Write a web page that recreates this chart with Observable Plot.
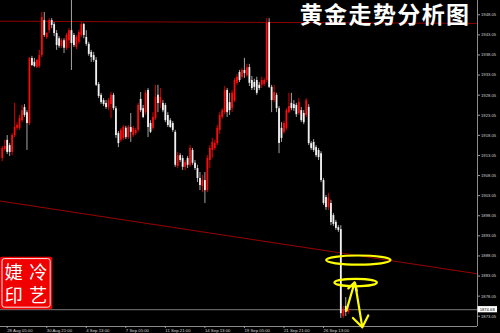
<!DOCTYPE html>
<html>
<head>
<meta charset="utf-8">
<script src="https://cdn.jsdelivr.net/npm/d3@7"></script>
<script src="https://cdn.jsdelivr.net/npm/@observablehq/plot@0.6"></script>
<style>
  html, body { margin: 0; padding: 0; background: #000; }
  #chart svg { display: block; }
</style>
</head>
<body>
<div id="chart"></div>
<script>
// XAUUSD, H4 bars, 25 Aug 21:00 .. 28 Sep 01:00
const firstBar = -2;

const open = [
  1912.3, 1914.5, 1916.8, 1915.5, 1913.8, 1918.0, 1919.8, 1919.8, 1921.7, 1925.0,
  1923.7, 1921.0, 1937.2, 1936.2, 1934.9, 1935.2, 1937.9, 1946.6, 1942.4, 1944.1,
  1946.6, 1945.6, 1943.4, 1942.1, 1940.2, 1941.6, 1939.7, 1941.6, 1944.1, 1942.9,
  1939.9, 1941.2, 1942.9, 1945.6, 1942.4, 1940.7, 1938.7, 1937.9, 1936.7, 1930.7,
  1928.0, 1926.7, 1926.0, 1925.0, 1925.7, 1928.0, 1924.7, 1918.5, 1916.8, 1917.3,
  1919.8, 1917.5, 1920.0, 1918.0, 1918.5, 1919.3, 1927.0, 1924.7, 1923.7, 1929.2,
  1921.0, 1919.8, 1922.2, 1928.0, 1926.0, 1926.0, 1925.5, 1923.0, 1921.7, 1921.0,
  1918.8, 1910.3, 1913.0, 1912.3, 1910.1, 1912.3, 1910.6, 1914.3, 1911.1, 1909.8,
  1907.3, 1905.3, 1906.8, 1904.3, 1911.8, 1914.3, 1914.8, 1916.0, 1919.3, 1922.5,
  1923.7, 1929.2, 1926.2, 1924.7, 1926.7, 1931.0, 1933.7, 1932.5, 1934.2, 1932.9,
  1934.9, 1931.7, 1931.2, 1931.7, 1930.5, 1930.5, 1930.7, 1931.7, 1946.1, 1930.0,
  1926.7, 1928.0, 1924.7, 1919.8, 1918.8, 1919.8, 1923.7, 1926.0, 1925.7, 1925.5,
  1923.5, 1924.2, 1923.5, 1923.0, 1925.0, 1916.0, 1916.3, 1915.0, 1914.3, 1913.5,
  1906.8, 1902.6, 1900.1, 1901.1, 1898.1, 1896.4, 1895.1, 1894.6, 1873.0, 1875.5,
  1874.0
];
const high = [
  1915.3, 1916.8, 1918.0, 1916.0, 1918.5, 1926.0, 1921.2, 1923.0, 1925.5, 1925.7,
  1924.2, 1937.4, 1937.7, 1937.2, 1936.9, 1939.2, 1948.6, 1948.6, 1943.6, 1947.1,
  1947.1, 1946.1, 1944.1, 1942.6, 1942.1, 1942.1, 1943.4, 1944.6, 1953.0, 1943.4,
  1942.9, 1944.1, 1946.1, 1945.9, 1944.1, 1941.2, 1939.2, 1938.7, 1937.4, 1931.2,
  1928.5, 1927.2, 1926.7, 1927.2, 1928.7, 1928.5, 1925.2, 1919.0, 1919.8, 1920.5,
  1920.3, 1920.5, 1923.5, 1920.3, 1919.8, 1926.0, 1928.7, 1925.5, 1929.2, 1929.7,
  1921.7, 1923.7, 1930.5, 1930.5, 1929.7, 1926.7, 1926.0, 1923.7, 1922.2, 1921.5,
  1919.3, 1913.8, 1913.5, 1913.0, 1911.8, 1912.8, 1915.5, 1914.8, 1911.8, 1910.6,
  1908.8, 1908.1, 1908.8, 1913.0, 1915.5, 1917.3, 1916.8, 1920.5, 1923.7, 1924.7,
  1930.2, 1929.7, 1928.5, 1929.2, 1932.2, 1933.2, 1934.2, 1934.7, 1937.2, 1935.7,
  1935.7, 1932.7, 1932.0, 1932.5, 1931.2, 1932.5, 1932.2, 1947.1, 1947.1, 1930.5,
  1930.5, 1928.5, 1925.2, 1921.2, 1921.5, 1924.7, 1928.5, 1928.5, 1926.7, 1926.0,
  1927.2, 1925.0, 1924.2, 1927.2, 1925.7, 1916.5, 1917.0, 1915.5, 1914.8, 1914.0,
  1907.3, 1903.1, 1903.6, 1901.9, 1898.6, 1896.9, 1895.6, 1895.6, 1875.5, 1877.7,
  1875.5
];
const low = [
  1911.5, 1914.0, 1913.3, 1912.8, 1913.0, 1917.5, 1919.3, 1919.3, 1921.2, 1922.5,
  1914.3, 1920.5, 1935.2, 1934.9, 1934.7, 1934.7, 1937.4, 1942.4, 1941.9, 1943.4,
  1944.6, 1942.6, 1939.2, 1939.7, 1939.7, 1938.4, 1939.2, 1939.7, 1934.2, 1939.9,
  1939.4, 1940.7, 1942.4, 1942.1, 1940.2, 1937.7, 1936.2, 1936.2, 1930.2, 1927.2,
  1925.7, 1925.2, 1924.5, 1924.2, 1922.2, 1924.2, 1917.3, 1915.0, 1916.3, 1916.8,
  1917.0, 1917.0, 1916.3, 1917.5, 1918.0, 1918.8, 1923.7, 1922.2, 1923.0, 1917.5,
  1918.5, 1919.3, 1921.7, 1923.7, 1924.7, 1923.7, 1921.2, 1920.0, 1919.8, 1918.8,
  1910.1, 1909.8, 1911.3, 1909.3, 1909.3, 1909.8, 1910.1, 1910.6, 1909.3, 1906.3,
  1904.3, 1903.8, 1901.1, 1903.8, 1909.8, 1912.3, 1914.3, 1915.5, 1918.3, 1922.0,
  1923.2, 1922.5, 1923.0, 1923.7, 1926.2, 1930.5, 1931.2, 1932.0, 1932.2, 1932.5,
  1930.2, 1929.2, 1929.2, 1928.0, 1929.2, 1929.7, 1930.2, 1931.2, 1929.7, 1923.7,
  1926.2, 1923.7, 1913.5, 1916.3, 1918.3, 1919.3, 1923.5, 1924.2, 1924.0, 1922.5,
  1923.0, 1921.2, 1920.7, 1922.5, 1915.5, 1914.3, 1913.8, 1912.5, 1911.8, 1906.3,
  1900.6, 1899.4, 1899.4, 1895.6, 1895.4, 1894.4, 1893.9, 1872.5, 1872.5, 1873.0,
  1873.5
];
const close = [
  1914.8, 1915.3, 1913.8, 1913.8, 1918.0, 1920.0, 1920.5, 1922.2, 1924.2, 1923.0,
  1921.0, 1937.2, 1935.4, 1935.2, 1936.7, 1937.9, 1947.4, 1942.9, 1943.4, 1946.6,
  1945.4, 1943.4, 1940.4, 1940.2, 1941.6, 1939.7, 1942.9, 1944.1, 1940.9, 1940.4,
  1942.4, 1943.6, 1945.6, 1942.9, 1940.7, 1938.2, 1937.4, 1936.7, 1930.5, 1927.7,
  1926.2, 1925.7, 1925.0, 1926.7, 1928.0, 1924.7, 1918.0, 1916.0, 1919.3, 1920.0,
  1917.5, 1920.0, 1918.8, 1919.8, 1919.3, 1925.5, 1924.2, 1922.5, 1928.5, 1920.0,
  1918.8, 1922.5, 1927.5, 1926.0, 1927.5, 1924.2, 1921.7, 1920.5, 1920.0, 1919.3,
  1910.6, 1913.0, 1911.8, 1910.1, 1911.3, 1910.6, 1914.8, 1911.1, 1909.8, 1907.3,
  1905.6, 1906.8, 1904.3, 1912.3, 1914.8, 1916.3, 1916.0, 1919.8, 1923.0, 1924.2,
  1929.2, 1923.7, 1924.2, 1928.5, 1931.7, 1932.5, 1931.7, 1934.2, 1933.4, 1934.9,
  1931.0, 1929.7, 1930.0, 1928.5, 1929.7, 1931.7, 1931.7, 1945.9, 1930.0, 1926.7,
  1928.7, 1924.7, 1916.0, 1917.3, 1921.0, 1924.2, 1925.2, 1924.7, 1924.7, 1923.2,
  1926.2, 1921.7, 1921.2, 1926.7, 1916.0, 1914.8, 1914.3, 1913.0, 1912.5, 1906.8,
  1901.1, 1900.1, 1902.4, 1896.4, 1895.9, 1894.9, 1894.4, 1873.7, 1874.7, 1874.0,
  1874.68
];

// Time axis: one label every 16 bars
const timeTicks = [0, 16, 32, 48, 64, 80, 96, 112, 128];
const timeLabels = ["28 Aug 05:00", "30 Aug 21:00", "4 Sep 13:00", "7 Sep 05:00",
  "11 Sep 21:00", "14 Sep 13:00", "19 Sep 05:00", "21 Sep 21:00", "26 Sep 13:00"];

// Price axis grid
const priceTicks = [1873.05, 1878.05, 1883.05, 1888.05, 1893.05, 1898.05, 1903.05, 1908.05,
  1913.05, 1918.05, 1923.05, 1928.05, 1933.05, 1938.05, 1943.05, 1948.05];
const lastPrice = 1874.68;

// Drawn lines: horizontal resistance and falling support
const resistance = [{bar: -2.71, price: 1946.45}, {bar: 190.31, price: 1945.9}];
const support = [{bar: -2.71, price: 1901.7}, {bar: 190.31, price: 1883.6}];

// Yellow markups
const rings = [
  {bar: 142.3, price: 1886.9, rx: 32.2, ry: 4.6},
  {bar: 141.2, price: 1881.3, rx: 21.2, ry: 3.7}
];
const bounceArrow = [{x1: 137.3, y1: 1874.5, x2: 140.6, y2: 1881.5}];
const dropArrow = [{x1: 140.8, y1: 1881.2, x2: 143.7, y2: 1870.3}];

const title = "黄金走势分析图";
const seal = [["婕", "冷"], ["印", "艺"]];

const bars = open.map((o, k) => ({
  bar: firstBar + k, open: o, high: high[k], low: low[k], close: close[k],
  up: close[k] > o
}));
const labelOf = new Map(timeTicks.map((t, k) => [t, timeLabels[k]]));

const chart = Plot.plot({
  width: 500,
  height: 333,
  marginLeft: 0,
  marginRight: 23,
  marginTop: 0,
  marginBottom: 7,
  style: {background: "#000", color: "#d0d0d0", fontFamily: "'Liberation Sans', sans-serif", overflow: "visible"},
  x: {domain: [-2.71, 190.31]},
  y: {domain: [1870.5, 1951.6]},
  marks: [
    Plot.ruleY([lastPrice], {stroke: "#7a7a7a", strokeWidth: 1}),
    Plot.line(resistance, {x: "bar", y: "price", stroke: "#8e0000", strokeWidth: 1}),
    Plot.line(support, {x: "bar", y: "price", stroke: "#9a0000", strokeWidth: 1}),
    Plot.ruleX(bars, {x: "bar", y1: "low", y2: "high",
      stroke: d => d.up ? "#d40000" : "#a5a5a5", strokeWidth: 1}),
    Plot.ruleX(bars, {x: "bar", y1: "open", y2: "close",
      stroke: d => d.up ? "#ff0a0a" : "#f2f2f2", strokeWidth: 1.8}),
    Plot.ruleX([190.31], {stroke: "#8c8c8c", strokeWidth: 1}),
    Plot.ruleY([1870.5], {stroke: "#8c8c8c", strokeWidth: 1}),
    Plot.axisY(priceTicks, {anchor: "right", tickSize: 2, tickPadding: 1.5,
      tickFormat: d => d.toFixed(2), fontSize: 4.2, stroke: "#9a9a9a", fill: "#d0d0d0"}),
    Plot.axisX(timeTicks, {anchor: "bottom", tickSize: 2, tickPadding: 0.3,
      tickFormat: d => labelOf.get(d), textAnchor: "start", fontSize: 4.3,
      stroke: "#9a9a9a", fill: "#d0d0d0"}),
    Plot.arrow(bounceArrow, {x1: "x1", y1: "y1", x2: "x2", y2: "y2",
      stroke: "#ffff00", strokeWidth: 2.2, headLength: 6, headAngle: 60}),
    Plot.arrow(dropArrow, {x1: "x1", y1: "y1", x2: "x2", y2: "y2",
      stroke: "#ffff00", strokeWidth: 2.2, headLength: 9, headAngle: 72}),
    Plot.text([title], {frameAnchor: "top-right", textAnchor: "end", lineAnchor: "middle",
      dx: -7, dy: 15, fontSize: 23, fontWeight: "bold", fill: "#ffffff",
      fontFamily: "'Noto Sans CJK SC', sans-serif"})
  ]
});

const svg = d3.select(chart);
const sx = chart.scale("x"), sy = chart.scale("y");

// title tracking
svg.selectAll("text").filter(function () { return this.textContent === title; })
  .style("letter-spacing", "1.4px");

// rings around the break levels
svg.append("g").selectAll("ellipse").data(rings).join("ellipse")
  .attr("cx", d => sx.apply(d.bar)).attr("cy", d => sy.apply(d.price))
  .attr("rx", d => d.rx).attr("ry", d => d.ry)
  .attr("fill", "none").attr("stroke", "#ffff00").attr("stroke-width", 2.2);

// last price tag on the price axis
const yLast = sy.apply(lastPrice);
const tag = svg.append("g");
tag.append("rect").attr("x", 477.5).attr("y", yLast - 3.1).attr("width", 19.5).attr("height", 6.2)
  .attr("fill", "#ffffff");
tag.append("text").attr("x", 487.2).attr("y", yLast).attr("dy", "0.35em")
  .attr("text-anchor", "middle").attr("font-size", 4.2).attr("fill", "#000")
  .attr("font-family", "'Liberation Sans', sans-serif").text(lastPrice.toFixed(2));

// seal
const stamp = svg.append("g");
stamp.append("rect").attr("x", 0).attr("y", 256.8).attr("width", 52.3).attr("height", 52.4)
  .attr("rx", 2).attr("fill", "#f00000");
stamp.append("rect").attr("x", 2).attr("y", 258.6).attr("width", 48.2).attr("height", 48.6)
  .attr("rx", 2.5).attr("fill", "none").attr("stroke", "#ffffff").attr("stroke-width", 0.9);
seal.forEach((row, r) => row.forEach((ch, c) => {
  stamp.append("text").attr("x", 13.8 + c * 24.4).attr("y", 272.5 + r * 23.5).attr("dy", "0.36em")
    .attr("text-anchor", "middle").attr("font-size", 18).attr("fill", "#ffffff")
    .attr("font-family", "'Noto Sans CJK SC', sans-serif").text(ch);
}));

document.getElementById("chart").appendChild(chart);
</script>
</body>
</html>
